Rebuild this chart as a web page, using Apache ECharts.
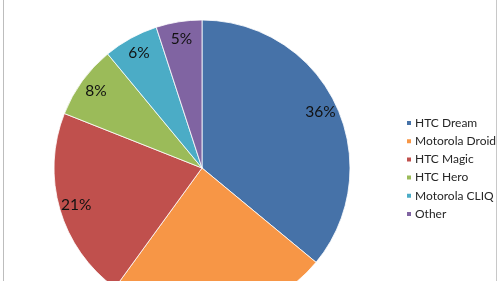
<!DOCTYPE html>
<html>
<head>
<meta charset="utf-8">
<script src="https://cdn.jsdelivr.net/npm/echarts@6/dist/echarts.min.js"></script>
<style>
html,body{margin:0;padding:0;background:#fff;}
#wrap{position:absolute;left:0;top:0;width:500px;height:281px;}
#lb{position:absolute;left:3px;top:0;width:1px;height:281px;background:#bdbdbd;}
#rb{position:absolute;left:496px;top:0;width:1px;height:281px;background:#c8c8c8;}
#chart{position:absolute;left:0;top:0;width:500px;height:281px;}
</style>
</head>
<body>
<div id="wrap"><div id="chart"></div><div id="lb"></div><div id="rb"></div></div>
<script>
const categories = ['HTC Dream', 'Motorola Droid', 'HTC Magic', 'HTC Hero', 'Motorola CLIQ', 'Other'];
const shares = [36, 24, 21, 8, 6, 5];
const colors = ['#4672A8', '#F79646', '#C0504D', '#9BBB59', '#4BACC6', '#8064A2'];

const chart = echarts.init(document.getElementById('chart'), null, {renderer: 'canvas'});
const baseData = categories.map((n, i) => ({name: n, value: shares[i], itemStyle: {color: colors[i]}}));
const labelData = categories.map((n, i) => ({name: n, value: shares[i], itemStyle: {color: 'rgba(0,0,0,0)'}}));
chart.setOption({
  animation: false,
  color: colors,
  legend: {
    orient: 'vertical',
    left: 400,
    top: 112,
    icon: 'rect',
    itemWidth: 6,
    itemHeight: 6,
    itemGap: 6.2,
    selectedMode: false,
    textStyle: {fontFamily: 'Lato', fontSize: 12, color: '#262626', lineHeight: 12, padding: [0, 0, 0, -2]},
    data: categories
  },
  series: [
    {
      type: 'pie',
      center: [202, 168],
      radius: [0, 148],
      startAngle: 90,
      clockwise: true,
      avoidLabelOverlap: false,
      label: {show: false},
      labelLine: {show: false},
      itemStyle: {borderColor: '#ffffff', borderWidth: 0.8},
      silent: true,
      data: baseData
    },
    {
      type: 'pie',
      center: [202, 168],
      radius: [108, 148],
      startAngle: 90,
      clockwise: true,
      avoidLabelOverlap: false,
      silent: true,
      label: {show: true, position: 'inside', formatter: '{c}%', fontFamily: 'Lato', fontSize: 15.5, color: '#111'},
      labelLine: {show: false},
      data: labelData
    }
  ]
});
</script>
</body>
</html>
